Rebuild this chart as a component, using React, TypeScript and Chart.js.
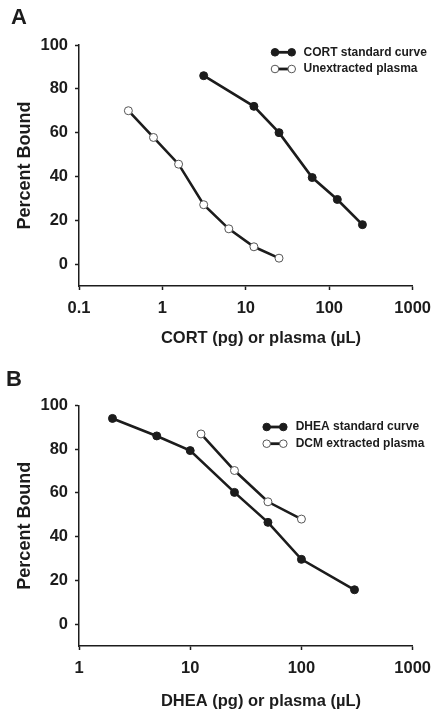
import React, { useEffect, useRef } from "react";
import { Chart, registerables } from "chart.js";

Chart.register(...registerables);

const FONT = "'Liberation Sans', Arial, Helvetica, sans-serif";
const INK = "#1c1c1c";

// ---- Panel A data ----
const cortStandardX = [3.125, 12.5, 25, 62.5, 125, 250];
const cortStandardY = [86, 72, 60, 39.5, 29.5, 18];
const unextractedX = [0.390625, 0.78125, 1.5625, 3.125, 6.25, 12.5, 25];
const unextractedY = [70, 57.8, 45.6, 27.1, 16.1, 7.9, 2.7];
const xTicksA = [0.1, 1, 10, 100, 1000];

// ---- Panel B data ----
const dheaStandardX = [2, 5, 10, 25, 50, 100, 300];
const dheaStandardY = [94, 86, 79.3, 60.2, 46.5, 29.6, 15.7];
const dcmExtractedX = [12.5, 25, 50, 100];
const dcmExtractedY = [86.9, 70.2, 55.9, 48];
const xTicksB = [1, 10, 100, 1000];

const yTicks = [0, 20, 40, 60, 80, 100];

type Series = { label: string; xs: number[]; ys: number[]; filled: boolean };

type PanelCfg = {
  letter: string;
  letterX: number;
  letterBaseline: number;
  xMin: number;
  xMax: number;
  xTicks: number[];
  xTitle: string;
  xTitleY: number;
  series: Series[];
  padTop: number;
  xAxisHeight: number;
  legendTextX: number;
  legendY0: number;
  legendDy: number;
  symX0: number;
  symX1: number;
};

const W = 440;
const H = 358;

function makePlugin(cfg: PanelCfg) {
  return {
    id: "panelDecor" + cfg.letter,
    afterDraw(chart: any) {
      const ctx = chart.ctx as CanvasRenderingContext2D;
      const ca = chart.chartArea;
      ctx.save();
      ctx.fillStyle = INK;
      // panel letter
      ctx.font = `bold 22px ${FONT}`;
      ctx.textAlign = "left";
      ctx.textBaseline = "alphabetic";
      ctx.fillText(cfg.letter, cfg.letterX, cfg.letterBaseline);
      // y title
      ctx.save();
      ctx.translate(25.5, (ca.top + ca.bottom) / 2);
      ctx.rotate(-Math.PI / 2);
      ctx.font = `bold 18px ${FONT}`;
      ctx.textAlign = "center";
      ctx.textBaseline = "middle";
      ctx.fillText("Percent Bound", 0, 0);
      ctx.restore();
      // x title
      ctx.font = `bold 16.5px ${FONT}`;
      ctx.textAlign = "center";
      ctx.textBaseline = "middle";
      ctx.fillText(cfg.xTitle, 261, cfg.xTitleY);
      // legend
      cfg.series.forEach((s, i) => {
        const y = cfg.legendY0 + i * cfg.legendDy;
        ctx.strokeStyle = INK;
        ctx.lineWidth = 2.8;
        ctx.beginPath();
        ctx.moveTo(cfg.symX0, y);
        ctx.lineTo(cfg.symX1, y);
        ctx.stroke();
        [cfg.symX0, cfg.symX1].forEach((cx) => {
          ctx.beginPath();
          ctx.arc(cx, y, 3.8, 0, Math.PI * 2);
          ctx.fillStyle = s.filled ? INK : "#ffffff";
          ctx.fill();
          ctx.lineWidth = 1;
          ctx.strokeStyle = s.filled ? INK : "#555555";
          ctx.stroke();
        });
        ctx.fillStyle = INK;
        ctx.font = `bold 12px ${FONT}`;
        ctx.textAlign = "left";
        ctx.textBaseline = "middle";
        ctx.fillText(s.label, cfg.legendTextX, y);
      });
      ctx.restore();
    },
  };
}

function Panel({ cfg }: { cfg: PanelCfg }) {
  const ref = useRef<HTMLCanvasElement | null>(null);
  useEffect(() => {
    if (!ref.current) return;
    const chart = new Chart(ref.current, {
      type: "line",
      data: {
        datasets: cfg.series.map((s) => ({
          label: s.label,
          data: s.xs.map((x, i) => ({ x, y: s.ys[i] })),
          borderColor: INK,
          borderWidth: 2.6,
          pointRadius: 4,
          pointBorderWidth: 1,
          pointBackgroundColor: s.filled ? INK : "#ffffff",
          pointBorderColor: s.filled ? INK : "#555555",
          tension: 0,
          fill: false,
        })),
      },
      options: {
        animation: false,
        responsive: false,
        maintainAspectRatio: false,
        devicePixelRatio: 1,
        layout: { padding: { top: cfg.padTop, right: 26, left: 0, bottom: 0 } },
        plugins: { legend: { display: false }, tooltip: { enabled: false } },
        scales: {
          x: {
            type: "logarithmic",
            position: "bottom",
            min: cfg.xMin,
            max: cfg.xMax,
            afterBuildTicks: (s: any) => {
              s.ticks = cfg.xTicks.map((v) => ({ value: v }));
            },
            afterFit: (s: any) => {
              s.height = cfg.xAxisHeight;
            },
            grid: {
              display: true,
              drawOnChartArea: false,
              drawTicks: true,
              tickLength: 4,
              tickWidth: 1.5,
              tickColor: INK,
            },
            border: { display: true, color: INK, width: 1.5 },
            ticks: {
              color: INK,
              font: { family: FONT, size: 16.5, weight: "bold" },
              padding: 9,
              maxRotation: 0,
              autoSkip: false,
              callback: (v: any) => String(v),
            },
          },
          y: {
            type: "linear",
            min: -10,
            max: 100,
            afterBuildTicks: (s: any) => {
              s.ticks = yTicks.map((v) => ({ value: v }));
            },
            afterFit: (s: any) => {
              s.width = 79;
            },
            grid: {
              display: true,
              drawOnChartArea: false,
              drawTicks: true,
              tickLength: 4,
              tickWidth: 1.5,
              tickColor: INK,
            },
            border: { display: true, color: INK, width: 1.5 },
            ticks: {
              color: INK,
              font: { family: FONT, size: 16.5, weight: "bold" },
              padding: 7,
              callback: (v: any) => String(v),
            },
          },
        },
      },
      plugins: [makePlugin(cfg)],
    } as any);
    return () => chart.destroy();
  }, [cfg]);
  return <canvas ref={ref} width={W} height={H} style={{ display: "block", width: W, height: H }} />;
}

const panelA: PanelCfg = {
  letter: "A",
  letterX: 11,
  letterBaseline: 24,
  xMin: 0.1,
  xMax: 1000,
  xTicks: xTicksA,
  xTitle: "CORT (pg) or plasma (µL)",
  xTitleY: 338.5,
  series: [
    { label: "CORT standard curve", xs: cortStandardX, ys: cortStandardY, filled: true },
    { label: "Unextracted plasma", xs: unextractedX, ys: unextractedY, filled: false },
  ],
  padTop: 45,
  xAxisHeight: 72,
  legendTextX: 303.5,
  legendY0: 52.3,
  legendDy: 16.7,
  symX0: 275,
  symX1: 291.7,
};

const panelB: PanelCfg = {
  letter: "B",
  letterX: 6,
  letterBaseline: 28,
  xMin: 1,
  xMax: 1000,
  xTicks: xTicksB,
  xTitle: "DHEA (pg) or plasma (µL)",
  xTitleY: 343,
  series: [
    { label: "DHEA standard curve", xs: dheaStandardX, ys: dheaStandardY, filled: true },
    { label: "DCM extracted plasma", xs: dcmExtractedX, ys: dcmExtractedY, filled: false },
  ],
  padTop: 47.3,
  xAxisHeight: 70,
  legendTextX: 295.7,
  legendY0: 69,
  legendDy: 16.7,
  symX0: 266.7,
  symX1: 283.3,
};

export default function App() {
  return (
    <div style={{ position: "absolute", left: 0, top: 0, width: W, height: 716, background: "#ffffff" }}>
      <Panel cfg={panelA} />
      <Panel cfg={panelB} />
    </div>
  );
}
